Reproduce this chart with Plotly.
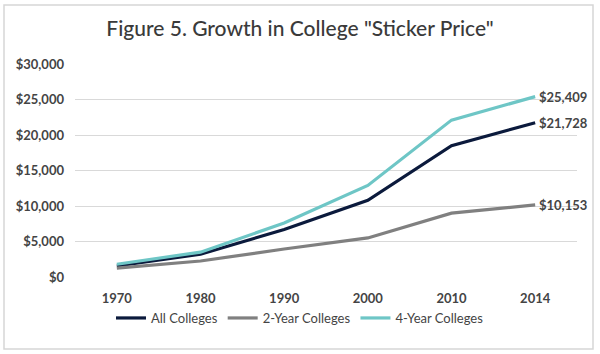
import plotly.graph_objects as go

years = ["1970", "1980", "1990", "2000", "2010", "2014"]
all_colleges = [1550, 3200, 6700, 10800, 18500, 21728]
two_year = [1250, 2250, 3950, 5500, 9000, 10153]
four_year = [1800, 3500, 7600, 12900, 22100, 25409]
series_names = ["All Colleges", "2-Year Colleges", "4-Year Colleges"]
series_colors = ["#0b1a3c", "#808080", "#6ec6c6"]
y_ticks = [0, 5000, 10000, 15000, 20000, 25000, 30000]
y_tick_labels = ["$0", "$5,000", "$10,000", "$15,000", "$20,000", "$25,000", "$30,000"]
title_text = 'Figure 5. Growth in College "Sticker Price"'

FONT = "Lato"
TXT = "#444444"

fig = go.Figure()
for name, vals, col in zip(series_names, [all_colleges, two_year, four_year], series_colors):
    fig.add_trace(go.Scatter(x=years, y=vals, mode="lines", name=name,
                             line=dict(color=col, width=3.2), hoverinfo="skip"))

for vals in [four_year, all_colleges, two_year]:
    fig.add_annotation(x=len(years) - 1, y=vals[-1], xref="x", yref="y",
                       text="${:,}".format(vals[-1]), showarrow=False,
                       xanchor="left", yanchor="middle", xshift=2,
                       font=dict(family=FONT, size=13, color=TXT, weight="bold"))

L, R, T, B = 75, 23, 64, 77
W, H = 600, 354
pw, ph = W - L - R, H - T - B

def px2paper_x(px):
    return (px - L) / pw

def px2paper_y(py):
    return (H - B - py) / ph

fig.add_shape(type="rect", xref="paper", yref="paper",
              x0=px2paper_x(4), x1=px2paper_x(593),
              y0=px2paper_y(349), y1=px2paper_y(5),
              line=dict(color="#d6d6d6", width=1.5), layer="below")

fig.update_layout(
    width=W, height=H,
    margin=dict(l=L, r=R, t=T, b=B, autoexpand=False),
    paper_bgcolor="white", plot_bgcolor="white",
    title=dict(text=title_text, x=0.5, xref="container", xanchor="center",
               y=1 - 29 / H, yanchor="middle",
               font=dict(family=FONT, size=21, color="#3a3a3a", weight=500)),
    showlegend=True,
    legend=dict(orientation="h", x=0.5, xanchor="center", xref="container",
                y=1 - 318 / H, yref="container", yanchor="middle",
                font=dict(family=FONT, size=13, color=TXT),
                itemwidth=30, tracegroupgap=0, traceorder="normal"),
    xaxis=dict(type="category", range=[-0.5, len(years) - 0.5], showgrid=False,
               showline=False, ticks="", fixedrange=True, ticklabelstandoff=12,
               automargin=False,
               tickfont=dict(family=FONT, size=13, color=TXT, weight="bold")),
    yaxis=dict(range=[0, 30000], tickvals=y_ticks, ticktext=y_tick_labels,
               showgrid=True, gridcolor="#d9d9d9", gridwidth=1.2, zeroline=False,
               showline=False, ticks="", ticklabelstandoff=10, automargin=False,
               tickfont=dict(family=FONT, size=13, color=TXT, weight="bold")),
)

fig.write_html("out.html")
